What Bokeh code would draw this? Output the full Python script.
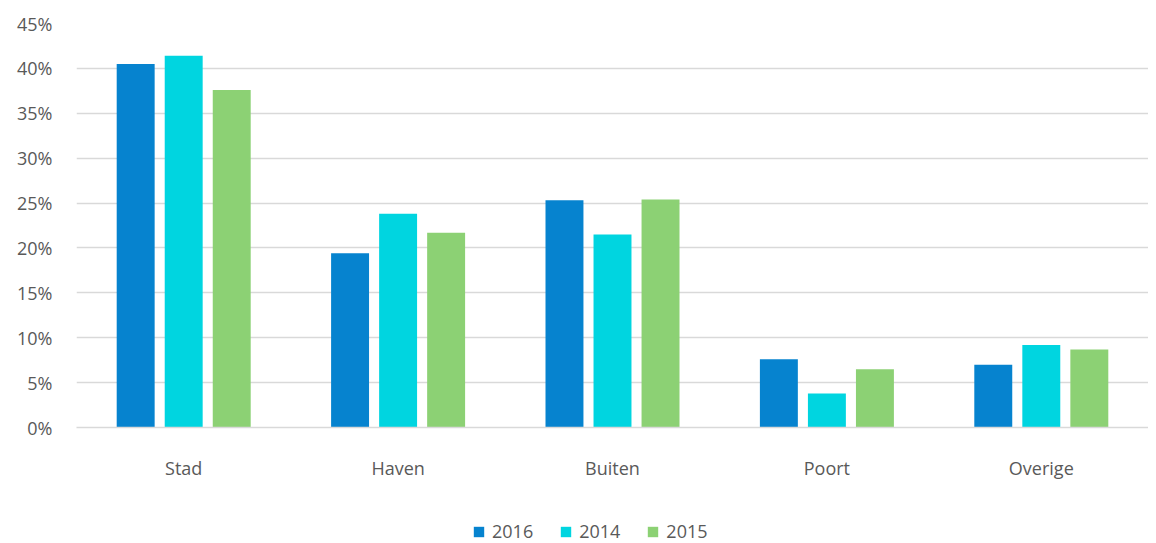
from bokeh.plotting import figure
from bokeh.layouts import column
from bokeh.models import ColumnDataSource, FactorRange, Legend, LegendItem, FixedTicker, PrintfTickFormatter, Range1d
from bokeh.transform import dodge
from bokeh.embed import file_html
from bokeh.resources import INLINE

categories = ["Stad", "Haven", "Buiten", "Poort", "Overige"]
series_names = ["2016", "2014", "2015"]
v2016 = [40.5, 19.4, 25.3, 7.6, 7.0]
v2014 = [41.4, 23.8, 21.5, 3.8, 9.2]
v2015 = [37.6, 21.7, 25.4, 6.5, 8.7]
colors = ["#0683CF", "#00D5E0", "#8CD174"]
y_ticks = [0, 5, 10, 15, 20, 25, 30, 35, 40, 45]

src = ColumnDataSource(dict(cat=categories, a=v2016, b=v2014, c=v2015))

FONT = "Open Sans"
TXT = "#595959"
GRID = "#D9D9D9"

p = figure(x_range=FactorRange(factors=categories, range_padding=0),
           y_range=Range1d(0, 45),
           width=1148, height=498, output_backend="svg", toolbar_location=None,
           min_border_left=76, min_border_right=0, min_border_top=23, min_border_bottom=71)

for key, off, col in zip(["a", "b", "c"], [-0.224, 0.0, 0.224], colors):
    p.vbar(x=dodge("cat", off, range=p.x_range), top=key, bottom=0, width=0.177,
           source=src, fill_color=col, line_color=None)

p.outline_line_color = None
p.xgrid.grid_line_color = None
p.ygrid.grid_line_color = GRID
p.ygrid.grid_line_width = 1.5
p.ygrid.ticker = FixedTicker(ticks=y_ticks)

p.yaxis.ticker = FixedTicker(ticks=y_ticks)
p.yaxis.formatter = PrintfTickFormatter(format="%d%%")
p.yaxis.axis_line_color = None
p.yaxis.major_tick_line_color = None
p.yaxis.minor_tick_line_color = None
p.yaxis.major_label_standoff = 18
p.yaxis.major_label_text_font = FONT
p.yaxis.major_label_text_font_size = "18px"
p.yaxis.major_label_text_color = TXT

p.xaxis.axis_line_color = GRID
p.xaxis.axis_line_width = 1.5
p.xaxis.major_tick_line_color = None
p.xaxis.minor_tick_line_color = None
p.xaxis.major_label_standoff = 22
p.xaxis.major_label_text_font = FONT
p.xaxis.major_label_text_font_size = "18px"
p.xaxis.major_label_text_color = TXT

# legend strip below the chart (swatch renderers sit outside the visible range)
lf = figure(width=1148, height=45, output_backend="svg", toolbar_location=None,
            x_range=Range1d(0, 1), y_range=Range1d(0, 1),
            min_border_left=76, min_border_right=0, min_border_top=0, min_border_bottom=0)
lf.axis.visible = False
lf.grid.visible = False
lf.outline_line_color = None
swatch = ColumnDataSource(dict(x=[-5], top=[0]))
leg_renderers = [lf.vbar(x="x", top="top", width=0.1, source=swatch, fill_color=c, line_color=None)
                 for c in colors]
legend = Legend(items=[LegendItem(label=n, renderers=[r]) for n, r in zip(series_names, leg_renderers)],
                orientation="horizontal", location=(396, 0),
                glyph_width=13, glyph_height=13, label_standoff=7, spacing=26,
                label_text_font=FONT, label_text_font_size="18px", label_text_color=TXT,
                border_line_color=None, padding=0, margin=0, background_fill_alpha=0)
lf.add_layout(legend)

layout = column(p, lf, spacing=0)
open("out.html", "w").write(file_html(layout, INLINE))
